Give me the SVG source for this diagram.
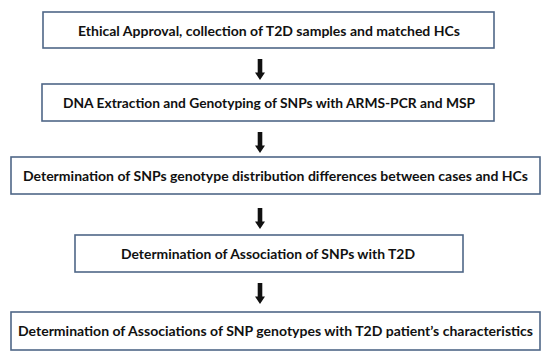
<svg xmlns="http://www.w3.org/2000/svg" width="550" height="362" viewBox="0 0 550 362">
<style>
.box{fill:#ffffff;stroke:#4f6787;stroke-width:1.6}
.t{font-family:Lato,"Open Sans","Liberation Sans",sans-serif;font-weight:bold;font-size:14px;fill:#111111}
.arr{fill:#111111}
</style>
<defs>
<path id="arrow" d="M-2.3,0 L2.3,0 L2.3,13.5 L5,13.5 L0,21 L-5,13.5 L-2.3,13.5 Z"/>
</defs>
<rect width="550" height="362" fill="#ffffff"/>
<g id="connectors">
<use href="#arrow" class="arr" x="260" y="59"/>
<use href="#arrow" class="arr" x="260" y="132"/>
<use href="#arrow" class="arr" x="260" y="208"/>
<use href="#arrow" class="arr" x="260" y="283"/>
</g>
<g id="node1">
<rect class="box" x="43" y="12" width="451" height="36"/>
<text class="t" x="78" y="36" textLength="382" lengthAdjust="spacingAndGlyphs">Ethical Approval, collection of T2D samples and matched HCs</text>
</g>
<g id="node2">
<rect class="box" x="42" y="84" width="452" height="37"/>
<text class="t" x="63" y="108" textLength="412" lengthAdjust="spacingAndGlyphs">DNA Extraction and Genotyping of SNPs with ARMS-PCR and MSP</text>
</g>
<g id="node3">
<rect class="box" x="11" y="157" width="529" height="37"/>
<text class="t" x="23" y="180.5" textLength="505" lengthAdjust="spacingAndGlyphs">Determination of SNPs genotype distribution differences between cases and HCs</text>
</g>
<g id="node4">
<rect class="box" x="75" y="235" width="388" height="37"/>
<text class="t" x="121" y="258.5" textLength="294" lengthAdjust="spacingAndGlyphs">Determination of Association of SNPs with T2D</text>
</g>
<g id="node5">
<rect class="box" x="11" y="312" width="529" height="38"/>
<text class="t" x="18" y="336" textLength="515" lengthAdjust="spacingAndGlyphs">Determination of Associations of SNP genotypes with T2D patient’s characteristics</text>
</g>
</svg>
